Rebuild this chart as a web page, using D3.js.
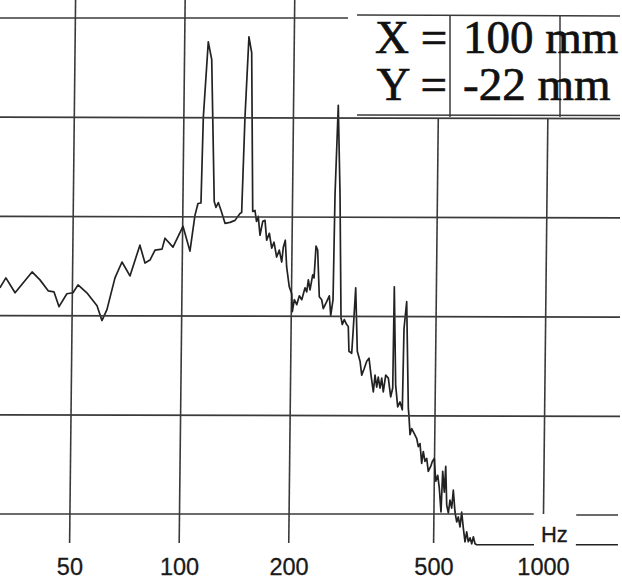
<!DOCTYPE html>
<html>
<head>
<meta charset="utf-8">
<script src="https://cdn.jsdelivr.net/npm/d3@7"></script>
<style>
  html, body { margin: 0; padding: 0; background: #fff; }
  svg { display: block; }
</style>
</head>
<body>
<svg id="chart" width="622" height="584"></svg>
<script>
// ---- data ----
const freqHz = [31.6,32.8,34.8,38.7,40.7,42.9,44.5,46.0,48.3,50.2,
  51.8,54.8,58.5,60.4,62.3,65.4,68.3,71.9,76.4,79.0,
  81.5,84.1,87.9,89.5,94.2,100.2,104.9,108.0,110.0,112.1,
  113.1,116.1,118.8,121.9,123.3,125.1,127.9,130.7,134.9,139.2,
  143.6,145.1,147.2,150.1,152.9,155.6,157.8,159.5,161.2,163.2,
  165.9,168.3,170.3,173.1,175.9,178.4,181.6,184.6,187.6,189.3,
  191.6,193.6,197.1,200.3,201.3,203.7,206.9,210.2,213.5,217.8,
  220.2,222.3,224.8,228.4,230.4,232.8,235.3,238.5,242.2,244.8,
  250.0,254.1,256.7,260.2,261.6,265.4,270.0,274.0,276.4,279.8,
  284.2,287.1,288.8,293.9,296.4,300.1,304.5,310.0,313.6,318.7,
  323.4,328.1,332.6,337.9,341.2,345.1,348.3,352.4,356.0,359.9,
  365.0,371.2,377.3,381.9,383.1,389.0,394.6,400.3,406.4,408.5,
  414.7,422.1,424.2,427.5,431.8,439.1,446.1,450.8,455.6,461.1,
  465.4,470.8,475.8,481.0,488.3,493.1,499.3,504.6,510.8,516.4,
  522.8,527.0,533.1,537.0,541.8,547.7,553.0,559.3,564.3,571.2,
  577.8,583.4,590.2,595.9,602.7,609.8,615.9,622.6,629.3,636.3,
  642.5,649.8,656.9,943.7];
const levelDb = [22.8,23.8,22.3,24.4,23.6,22.5,22.4,20.9,22.2,22.3,
  23.1,22.3,21.0,19.5,20.6,23.8,25.4,24.0,27.1,25.3,
  25.6,26.6,26.7,27.8,26.9,29.0,26.5,30.1,31.3,31.35,
  40.0,47.6,45.8,31.5,30.9,31.4,30.4,29.3,29.4,29.6,
  30.3,30.4,40.0,48.1,46.5,30.5,30.6,29.5,30.0,28.1,
  29.5,29.6,27.6,28.3,26.8,27.4,25.9,26.6,25.4,26.9,
  27.6,24.9,22.9,22.2,20.4,21.6,21.1,22.0,21.6,22.8,
  22.4,23.6,22.6,24.1,23.8,27.0,26.6,21.9,21.6,20.7,
  21.4,22.0,20.0,21.6,32.2,41.2,32.2,19.8,19.1,19.6,
  19.1,18.9,16.4,16.2,18.7,22.8,16.4,15.4,14.0,14.7,
  15.4,15.7,14.0,12.3,14.0,12.8,13.8,12.7,13.7,12.3,
  14.0,13.7,11.8,12.7,22.9,13.0,10.8,11.3,10.5,18.7,
  21.4,10.7,9.8,8.0,8.6,8.1,7.6,6.8,7.1,5.1,
  6.3,5.3,5.6,4.3,4.8,5.3,5.6,3.3,3.9,2.6,
  0.2,4.3,2.2,4.8,0.9,0.1,1.4,0.6,2.4,0.2,
  -0.8,-0.3,-1.3,0.2,-1.4,-2.8,-1.8,-2.8,-2.4,-3.0,
  -2.3,-3.0,-3.1,-3.1];
const floorTailHz = [1230, 1605];        // trace floor continued right of "Hz"
const floorLevel = -3.1;
const xTicks = [50, 100, 200, 500, 1000];
const xTickLabels = ["50", "100", "200", "500", "1000"];
const levelGrid = [0, 10, 20, 30, 40, 50];
const unitLabel = "Hz";
const unitLabelHz = 1071;
const hzGapHz = [940, 1230];             // gap in the bottom grid line for "Hz"
const boxLines = [["X =", "100 mm"], ["Y =", "-22 mm"]];

// ---- layout ----
const W = 622, H = 584;
const svg = d3.select("#chart");
const x = d3.scaleLog().domain([100, 1000]).range([179.5, 543.5]);
const y = d3.scaleLinear().domain([0, 50]).range([514, 18]);
const ink = "#222";
const gridInk = "#3a3a3a";

// scanned sheet is slightly sheared: skew the plot about the bottom grid line
const plot = svg.append("g")
  .attr("transform", `translate(0,${y(0)}) skewX(-0.63) translate(0,${-y(0)})`);

const topLevel = y.invert(0);      // top edge of the sheet
const lowLevel = y.invert(543);    // where vertical lines end
const boxBottom = y.invert(118);

// vertical grid lines
plot.append("g").selectAll("line").data(xTicks).join("line")
  .attr("x1", d => x(d)).attr("x2", d => x(d))
  .attr("y1", d => d >= 500 ? y(boxBottom) : y(topLevel))
  .attr("y2", d => d >= 1000 ? y(0) : y(lowLevel))
  .attr("stroke", gridInk).attr("stroke-width", 1.6);

// horizontal grid lines
const hg = svg.append("g");
levelGrid.forEach(v => {
  if (v === 0) {
    hg.append("line").attr("x1", 0).attr("x2", x(hzGapHz[0]))
      .attr("y1", y(v)).attr("y2", y(v));
    hg.append("line").attr("x1", x(hzGapHz[1])).attr("x2", 618)
      .attr("y1", y(v) + 1).attr("y2", y(v) + 1);
  } else if (v === 50) {
    hg.append("line").attr("x1", 0).attr("x2", 348)
      .attr("y1", y(v)).attr("y2", y(v));
  } else {
    hg.append("line").attr("x1", 0).attr("x2", 620)
      .attr("y1", y(v)).attr("y2", y(v) + 1.5);
  }
});
hg.selectAll("line").attr("stroke", gridInk).attr("stroke-width", 1.7);

// spectrum trace
const pts = freqHz.map((f, i) => [f, levelDb[i]]);
const line = d3.line().x(d => x(d[0])).y(d => y(d[1]));
plot.append("path").datum(pts)
  .attr("d", line)
  .attr("fill", "none").attr("stroke", ink).attr("stroke-width", 1.7)
  .attr("stroke-linejoin", "round");
plot.append("path").datum(floorTailHz.map(f => [f, floorLevel]))
  .attr("d", line)
  .attr("fill", "none").attr("stroke", ink).attr("stroke-width", 1.7);

// tick labels
svg.append("g").selectAll("text").data(xTicks).join("text")
  .attr("x", d => x(d)).attr("y", 575)
  .attr("text-anchor", "middle")
  .attr("font-family", "Liberation Sans, Arial, sans-serif")
  .attr("font-size", 23.5).attr("fill", "#1a1a1a")
  .attr("stroke", "#1a1a1a").attr("stroke-width", 0.3)
  .text((d, i) => xTickLabels[i]);

svg.append("text")
  .attr("x", x(unitLabelHz)).attr("y", 542)
  .attr("text-anchor", "middle")
  .attr("font-family", "Liberation Sans, Arial, sans-serif")
  .attr("font-size", 22).attr("fill", "#1a1a1a")
  .attr("stroke", "#1a1a1a").attr("stroke-width", 0.3)
  .text(unitLabel);

// annotation box
const box = svg.append("g");
box.append("line").attr("x1", 357).attr("x2", 620).attr("y1", 15).attr("y2", 16);
box.append("line").attr("x1", 357).attr("x2", 620).attr("y1", 115).attr("y2", 115.5);
box.append("line").attr("x1", 450).attr("x2", 450).attr("y1", 15).attr("y2", 117);
box.append("line").attr("x1", 560).attr("x2", 560).attr("y1", 15).attr("y2", 117);
box.selectAll("line").attr("stroke", gridInk).attr("stroke-width", 1.5);

const baselines = [53, 100];
boxLines.forEach((pair, i) => {
  box.append("text").attr("x", 375 + i * 1.5).attr("y", baselines[i])
    .attr("font-family", "Liberation Serif, Times New Roman, serif")
    .attr("font-size", 47).attr("fill", "#111")
    .attr("stroke", "#111").attr("stroke-width", 0.7).text(pair[0]);
  box.append("text").attr("x", 463).attr("y", baselines[i])
    .attr("font-family", "Liberation Serif, Times New Roman, serif")
    .attr("font-size", 47).attr("fill", "#111")
    .attr("stroke", "#111").attr("stroke-width", 0.7).text(pair[1]);
});
</script>
</body>
</html>
